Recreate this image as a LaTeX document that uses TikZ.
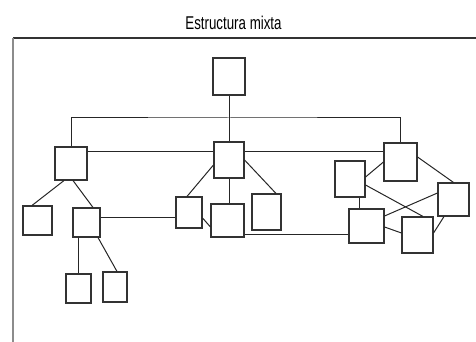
\documentclass[tikz,border=0pt]{standalone}
\usepackage{fontspec}
\setmainfont{Liberation Sans}
\newfontfamily\narrowfont[FakeStretch=0.72]{Liberation Sans}
\usetikzlibrary{calc}
\tikzset{
  box/.style={draw=black!80, line width=1.1pt, fill=white, rectangle, inner sep=0pt},
  link/.style={draw=black!85, line width=1pt},
}
\begin{document}
\begin{tikzpicture}[x=1pt,y=-1pt]
\useasboundingbox (0,0) rectangle (476,342);
% frame
\draw[black!80, line width=1.1pt] (13,38) -- (476,38);
\draw[black!45, line width=1.6pt] (13,38) -- (13,342);
% title
\node (title) at (233.5,23) {\narrowfont\fontsize{18.5}{20}\selectfont Estructura mixta};
% boxes
\node[box, minimum width=32pt, minimum height=37pt] (T)  at (229,76.5) {};
\node[box, minimum width=32pt, minimum height=33pt] (A)  at (71,163.5) {};
\node[box, minimum width=30pt, minimum height=36pt] (B)  at (229,160) {};
\node[box, minimum width=29pt, minimum height=29pt] (A1) at (37.5,220.5) {};
\node[box, minimum width=27pt, minimum height=29pt] (A2) at (86.5,222.5) {};
\node[box, minimum width=26pt, minimum height=31pt] (C)  at (189,212.5) {};
\node[box, minimum width=33pt, minimum height=33pt] (D)  at (227.5,220.5) {};
\node[box, minimum width=25pt, minimum height=29pt] (A3) at (78.5,288.5) {};
\node[box, minimum width=24pt, minimum height=30pt] (A4) at (115,287) {};
\node[box, minimum width=33pt, minimum height=38pt] (E)  at (400.5,162) {};
\node[box, minimum width=29pt, minimum height=36pt] (F)  at (266.5,212) {};
\node[box, minimum width=35pt, minimum height=34pt] (G)  at (366.5,226) {};
\node[box, minimum width=30pt, minimum height=36pt] (H)  at (350,179) {};
\node[box, minimum width=31pt, minimum height=36pt] (I)  at (417.5,235) {};
\node[box, minimum width=31pt, minimum height=33pt] (J)  at (453.5,199.5) {};
% connectors
\coordinate (bus) at (229,118);
\draw[link] (A.north) |- (bus) -| (E.north);
\draw[link] (T.south) -- (B.north);
\coordinate (ab) at ([yshift=12.5pt]A.east);
\draw[link] (ab) -- (ab -| B.west);
\draw[link] (ab -| B.east) -- (ab -| E.west);
\draw[link] ([xshift=-7pt]A.south) -- ([xshift=-5.5pt]A1.north);
\draw[link] ([xshift=2pt]A.south) -- ([xshift=6.5pt]A2.north);
\draw[link] (A3.north |- A2.south) -- (A3.north);
\draw[link] ([xshift=11.5pt]A2.south) -- ([xshift=2pt]A4.north);
\coordinate (ac) at ([yshift=5.5pt]A2.east);
\draw[link] (ac) -- (ac -| C.west);
\draw[link] ([yshift=-5pt]B.west) -- ([xshift=-2pt]C.north);
\draw[link] ([yshift=-5.5pt]C.east) -- ([yshift=-6.5pt]D.west);
\draw[link] (B.south) -- (B.south |- D.north);
\draw[link] (B.east) -- ([xshift=9.5pt]F.north);
\coordinate (dg) at ([yshift=-13.5pt]D.east);
\draw[link] (dg) -- (dg -| G.west);
\coordinate (hg) at ([xshift=9pt]H.south);
\draw[link] (hg) -- (hg |- G.north);
\draw[link] ([yshift=2pt]H.east) -- (E.west);
\draw[link] ([yshift=-6pt]H.east) -- ([xshift=5.5pt]I.north);
\draw[link] ([yshift=5pt]E.east) -- (J.north);
\draw[link] ([yshift=10pt]G.east) -- ([yshift=6.5pt]J.west);
\draw[link] ([yshift=-1pt]G.east) -- ([yshift=2pt]I.west);
\draw[link] ([yshift=2pt]I.east) -- ([xshift=-9.5pt]J.south);
\end{tikzpicture}
\end{document}
